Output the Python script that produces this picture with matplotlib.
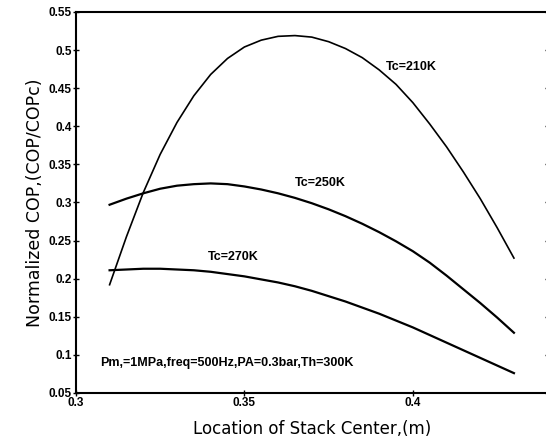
import matplotlib.pyplot as plt
import numpy as np

# stack center location (m)
x = [0.31, 0.315, 0.32, 0.325, 0.33, 0.335, 0.34, 0.345, 0.35, 0.355,
     0.36, 0.365, 0.37, 0.375, 0.38, 0.385, 0.39, 0.395, 0.40, 0.405,
     0.41, 0.415, 0.42, 0.425, 0.43]

# normalized COP for each cold temperature
cop_210 = [0.192, 0.255, 0.313, 0.363, 0.405, 0.440, 0.468, 0.489, 0.504, 0.513,
           0.518, 0.519, 0.517, 0.511, 0.502, 0.490, 0.474, 0.455, 0.431, 0.403,
           0.373, 0.340, 0.305, 0.267, 0.227]
cop_250 = [0.297, 0.305, 0.312, 0.318, 0.322, 0.324, 0.325, 0.324, 0.321, 0.317,
           0.312, 0.306, 0.299, 0.291, 0.282, 0.272, 0.261, 0.249, 0.236, 0.221,
           0.204, 0.186, 0.168, 0.149, 0.129]
cop_270 = [0.211, 0.212, 0.213, 0.213, 0.212, 0.211, 0.209, 0.206, 0.203, 0.199,
           0.195, 0.190, 0.184, 0.177, 0.170, 0.162, 0.154, 0.145, 0.136, 0.126,
           0.116, 0.106, 0.096, 0.086, 0.076]

fig = plt.figure(figsize=(5.46, 4.43), dpi=100)
ax = fig.add_axes([0.139, 0.113, 0.864, 0.86])

for y, lw in [(cop_210, 1.2), (cop_250, 1.6), (cop_270, 1.6)]:
    ax.plot(x, y, color='black', lw=lw, solid_joinstyle='round')

bold = dict(fontsize=9, fontweight='bold', family='Liberation Sans')
ax.text(0.3994, 0.478, 'Tc=210K', **bold, ha='center', va='center')
ax.text(0.3725, 0.326, 'Tc=250K', **bold, ha='center', va='center')
ax.text(0.3466, 0.228, 'Tc=270K', **bold, ha='center', va='center')
ax.text(0.3072, 0.089, 'Pm,=1MPa,freq=500Hz,PA=0.3bar,Th=300K',
        **bold, ha='left', va='center')

ax.set_xlim(0.3, 0.44)
ax.set_ylim(0.05, 0.55)
ax.set_xticks([0.3, 0.35, 0.4])
ax.set_xticklabels(['0.3', '0.35', '0.4'])
ax.set_yticks([0.05, 0.1, 0.15, 0.2, 0.25, 0.3, 0.35, 0.4, 0.45, 0.5, 0.55])
ax.set_yticklabels(['0.05', '0.1', '0.15', '0.2', '0.25', '0.3', '0.35',
                    '0.4', '0.45', '0.5', '0.55'])
ax.tick_params(axis='both', direction='inout', length=4, width=1,
               labelsize=8.5, pad=1, right=True)
for lab in ax.get_xticklabels() + ax.get_yticklabels():
    lab.set_fontweight('bold')
    lab.set_family('Liberation Sans')
for s in ax.spines.values():
    s.set_linewidth(1.5)

ax.set_xlabel('Location of Stack Center,(m)', fontsize=12, labelpad=8)
ax.set_ylabel('Normalized COP,(COP/COPc)', fontsize=12.5, labelpad=3)

fig.savefig('out.png', dpi=100)
